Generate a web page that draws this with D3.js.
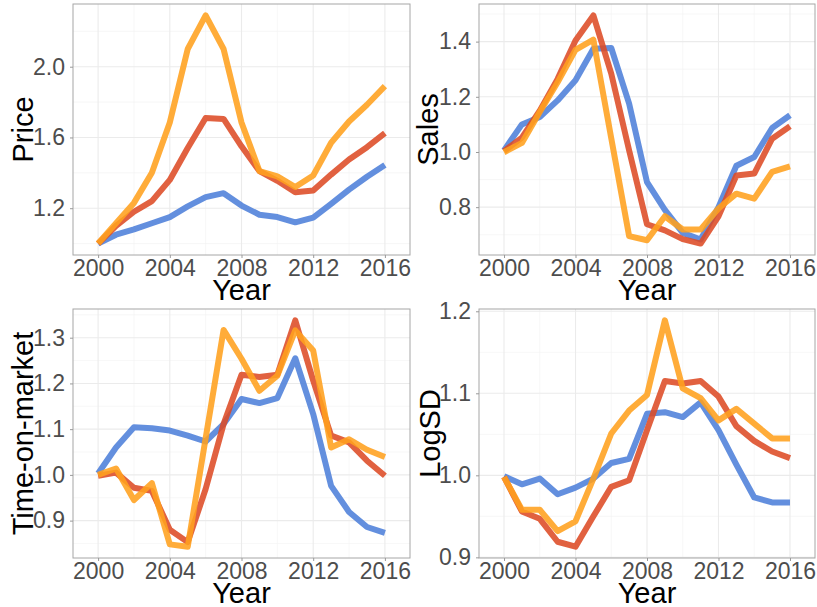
<!DOCTYPE html>
<meta charset="utf-8">
<style>
    body { margin: 0; background: #fff; }
    .tick text { font-family: "Liberation Sans", Arial, sans-serif; font-size: 23px; fill: #4d4d4d; }
    .tick line { stroke: #999; }
    .domain { display: none; }
    .title { font-family: "Liberation Sans", Arial, sans-serif; font-size: 29px; fill: #000; }
</style>

<svg width="817" height="607"></svg>

<script src="https://cdn.jsdelivr.net/npm/d3@7/dist/d3.min.js"></script>

<script>
    var years = d3.range(2000, 2017);

    // Price
    var priceBlue   = [1.0, 1.05, 1.08, 1.115, 1.15, 1.21, 1.263, 1.285, 1.215, 1.163, 1.15, 1.12, 1.147, 1.225, 1.305, 1.378, 1.444];
    var priceRed    = [1.0, 1.10, 1.18, 1.24, 1.36, 1.54, 1.71, 1.705, 1.55, 1.41, 1.355, 1.29, 1.30, 1.39, 1.475, 1.545, 1.625];
    var priceOrange = [1.0, 1.115, 1.23, 1.40, 1.685, 2.10, 2.29, 2.10, 1.685, 1.41, 1.38, 1.32, 1.385, 1.57, 1.69, 1.785, 1.89];

    // Sales
    var salesBlue   = [1.006, 1.10, 1.127, 1.187, 1.26, 1.374, 1.377, 1.175, 0.891, 0.79, 0.707, 0.683, 0.80, 0.95, 0.982, 1.087, 1.133];
    var salesRed    = [1.003, 1.052, 1.15, 1.265, 1.404, 1.495, 1.284, 1.006, 0.738, 0.716, 0.684, 0.668, 0.767, 0.915, 0.922, 1.048, 1.093];
    var salesOrange = [0.999, 1.033, 1.145, 1.253, 1.37, 1.407, 1.05, 0.695, 0.68, 0.767, 0.719, 0.719, 0.795, 0.849, 0.831, 0.928, 0.948];

    // Time-on-market
    var tomBlue   = [1.003, 1.06, 1.104, 1.102, 1.097, 1.086, 1.073, 1.111, 1.166, 1.157, 1.168, 1.255, 1.133, 0.976, 0.919, 0.886, 0.873];
    var tomRed    = [0.998, 1.005, 0.972, 0.965, 0.88, 0.853, 0.969, 1.111, 1.219, 1.214, 1.219, 1.338, 1.206, 1.086, 1.071, 1.031, 0.998];
    var tomOrange = [1.0, 1.014, 0.945, 0.982, 0.848, 0.843, 1.08, 1.317, 1.254, 1.184, 1.217, 1.316, 1.272, 1.06, 1.078, 1.055, 1.039];

    // LogSD
    var sdBlue   = [0.999, 0.989, 0.996, 0.977, 0.985, 0.996, 1.015, 1.020, 1.075, 1.077, 1.071, 1.089, 1.055, 1.013, 0.973, 0.967, 0.967];
    var sdRed    = [0.998, 0.956, 0.947, 0.919, 0.913, 0.95, 0.986, 0.994, 1.055, 1.115, 1.112, 1.115, 1.096, 1.06, 1.042, 1.029, 1.021];
    var sdOrange = [0.998, 0.958, 0.958, 0.932, 0.944, 0.996, 1.051, 1.079, 1.098, 1.189, 1.106, 1.094, 1.067, 1.081, 1.063, 1.045, 1.045];

    var xTicks = [2000, 2004, 2008, 2012, 2016];
    var xMinor = [2002, 2006, 2010, 2014];
    var colors = ["#4d80da", "#dd4b26", "#ffa01e"];

    var panels = [
        {label: "Price", series: [priceBlue, priceRed, priceOrange], ticks: [1.2, 1.6, 2.0], minor: [1.0, 1.4, 1.8, 2.2], box: [73, 4, 410, 255], titleX: 33},
        {label: "Sales", series: [salesBlue, salesRed, salesOrange], ticks: [0.8, 1.0, 1.2, 1.4], minor: [0.7, 0.9, 1.1, 1.3, 1.5], box: [479, 4, 815, 255], titleX: 438},
        {label: "Time-on-market", series: [tomBlue, tomRed, tomOrange], ticks: [0.9, 1.0, 1.1, 1.2, 1.3], minor: [0.85, 0.95, 1.05, 1.15, 1.25, 1.35], box: [73, 309, 410, 558], titleX: 33},
        {label: "LogSD", series: [sdBlue, sdRed, sdOrange], ticks: [0.9, 1.0, 1.1, 1.2], minor: [0.95, 1.05, 1.15], box: [479, 309, 815, 558], titleX: 440}
    ];

    var svg = d3.select("svg");

    panels.forEach(function (p) {
        var x0 = p.box[0], y0 = p.box[1], x1 = p.box[2], y1 = p.box[3];
        var ext = d3.extent(d3.merge(p.series)), pad = (ext[1] - ext[0]) * 0.05;
        var x = d3.scaleLinear().domain([1998.6, 2017.4]).range([x0, x1]);
        var y = d3.scaleLinear().domain([ext[0] - pad, ext[1] + pad]).range([y1, y0]);

        var g = svg.append("g");

        // grid: minor then major
        function hgrid(vals, col, w) {
            g.selectAll(null).data(vals.filter(function (v) { return v >= y.domain()[0] && v <= y.domain()[1]; }))
                .enter().append("line")
                .attr("x1", x0).attr("x2", x1)
                .attr("y1", function (d) { return y(d); }).attr("y2", function (d) { return y(d); })
                .attr("stroke", col).attr("stroke-width", w);
        }
        function vgrid(vals, col, w) {
            g.selectAll(null).data(vals)
                .enter().append("line")
                .attr("y1", y0).attr("y2", y1)
                .attr("x1", function (d) { return x(d); }).attr("x2", function (d) { return x(d); })
                .attr("stroke", col).attr("stroke-width", w);
        }
        hgrid(p.minor, "#f2f2f2", 0.6);
        vgrid(xMinor, "#f2f2f2", 0.6);
        hgrid(p.ticks, "#ebebeb", 1.1);
        vgrid(xTicks, "#ebebeb", 1.1);

        // lines
        var line = d3.line()
            .x(function (d, i) { return x(years[i]); })
            .y(function (d) { return y(d); });
        p.series.forEach(function (s, k) {
            g.append("path")
                .datum(s)
                .attr("d", line)
                .attr("fill", "none")
                .attr("stroke", colors[k])
                .attr("stroke-opacity", 0.88)
                .attr("stroke-width", 6)
                .attr("stroke-linejoin", "round");
        });

        // border
        g.append("rect")
            .attr("x", x0).attr("y", y0)
            .attr("width", x1 - x0).attr("height", y1 - y0)
            .attr("fill", "none").attr("stroke", "#a6a6a6").attr("stroke-width", 1);

        // axes
        g.append("g")
            .attr("transform", "translate(0," + y1 + ")")
            .call(d3.axisBottom(x).tickValues(xTicks).tickFormat(d3.format("d")).tickSize(3).tickPadding(2));
        g.append("g")
            .attr("transform", "translate(" + x0 + ",0)")
            .call(d3.axisLeft(y).tickValues(p.ticks).tickFormat(d3.format(".1f")).tickSize(3).tickPadding(5));

        // titles
        g.append("text")
            .attr("class", "title")
            .attr("x", (x0 + x1) / 2)
            .attr("y", y1 + 45)
            .attr("text-anchor", "middle")
            .text("Year");
        g.append("text")
            .attr("class", "title")
            .attr("transform", "translate(" + p.titleX + "," + ((y0 + y1) / 2) + ") rotate(-90)")
            .attr("text-anchor", "middle")
            .text(p.label);
    });
</script>
